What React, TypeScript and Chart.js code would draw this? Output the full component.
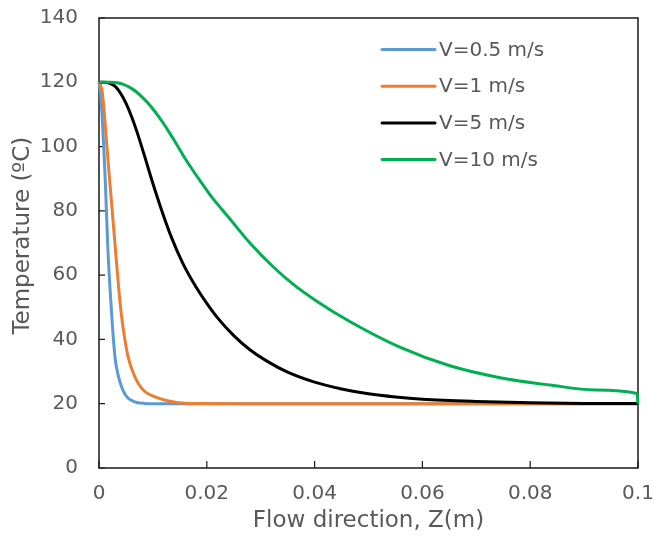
import React, { useEffect, useRef } from "react";
import { Chart, registerables } from "chart.js";

Chart.register(...registerables);

// ---- Data ----
const seriesLabels = ["V=0.5 m/s", "V=1 m/s", "V=5 m/s", "V=10 m/s"];
const seriesColors = ["#5B9BD5", "#ED7D31", "#000000", "#00B050"];

const blueZ = [0, 0.0003, 0.0006, 0.0009, 0.0012, 0.0016, 0.002, 0.0025, 0.003, 0.0036, 0.0042, 0.0048, 0.0054, 0.0062, 0.007, 0.0085, 0.011, 0.015, 0.02, 0.05, 0.1];
const blueT = [120, 116, 109, 99, 88, 70, 57, 44, 34, 28.5, 25.2, 23, 21.7, 20.9, 20.4, 20.1, 20, 20, 20, 20, 20];

const orangeZ = [0, 0.0003, 0.0006, 0.001, 0.0014, 0.0019, 0.0024, 0.003, 0.0036, 0.0042, 0.0048, 0.0054, 0.0063, 0.0073, 0.0085, 0.0104, 0.0125, 0.0147, 0.018, 0.025, 0.05, 0.1];
const orangeT = [120, 119, 117, 110, 101.5, 91, 81, 69, 57, 47, 40, 34.6, 29.8, 26.3, 23.8, 22.1, 21, 20.3, 20.05, 20, 20, 20];

const blackZ = [0, 0.001, 0.002, 0.003, 0.004, 0.005, 0.006, 0.007, 0.0085, 0.01, 0.0116, 0.0135, 0.0156, 0.018, 0.02, 0.022, 0.025, 0.028, 0.031, 0.035, 0.04, 0.045, 0.05, 0.055, 0.06, 0.07, 0.08, 0.09, 0.1];
const blackT = [120, 120, 119.7, 118.7, 116.6, 113.5, 109.5, 104.8, 96.8, 88.5, 80.3, 71.5, 63.5, 56.3, 51.2, 46.7, 41.2, 36.8, 33.4, 29.8, 26.7, 24.6, 23.1, 22.1, 21.4, 20.7, 20.3, 20.1, 20.05];

const greenZ = [0, 0.001, 0.002, 0.003, 0.004, 0.005, 0.006, 0.007, 0.008, 0.009, 0.01, 0.011, 0.012, 0.013, 0.014, 0.015, 0.016, 0.0175, 0.019, 0.021, 0.0238, 0.028, 0.0323, 0.036, 0.0404, 0.0466, 0.0558, 0.0651, 0.0744, 0.0837, 0.092, 0.0998, 0.1];
const greenT = [120, 120, 120, 119.9, 119.6, 119, 118.1, 116.9, 115.4, 113.7, 111.7, 109.5, 107.1, 104.5, 101.8, 99, 96.2, 92.4, 88.8, 84.1, 78.5, 70, 62.6, 57.2, 51.9, 45.5, 37.6, 31.8, 28.1, 25.8, 24.3, 23.2, 20];

const xTickValues = [0, 0.02, 0.04, 0.06, 0.08, 0.1];
const xTickLabels = ["0", "0.02", "0.04", "0.06", "0.08", "0.1"];
const yTickValues = [0, 20, 40, 60, 80, 100, 120, 140];

const xTitle = "Flow direction, Z(m)";
const yTitle = "  Temperature (ºC)";

const FONT = "'DejaVu Sans', sans-serif";
const TEXT_COLOR = "#595959";

const zs = [blueZ, orangeZ, blackZ, greenZ];
const ts = [blueT, orangeT, blackT, greenT];

const framePlugin = {
  id: "frameTicks",
  beforeDatasetsDraw(chart: any) {
    const { ctx, chartArea, scales } = chart;
    const { left, right, top, bottom } = chartArea;
    ctx.save();
    ctx.strokeStyle = "#1a1a1a";
    ctx.lineWidth = 1.5;
    ctx.strokeRect(left, top, right - left, bottom - top);
    ctx.lineWidth = 1.2;
    ctx.beginPath();
    for (const v of yTickValues) {
      const y = scales.y.getPixelForValue(v);
      ctx.moveTo(left, y);
      ctx.lineTo(left + 6, y);
    }
    for (const v of xTickValues) {
      const x = scales.x.getPixelForValue(v);
      ctx.moveTo(x, bottom);
      ctx.lineTo(x, bottom - 7);
    }
    ctx.stroke();
    ctx.restore();
  },
  afterDatasetsDraw(chart: any) {
    const { ctx, chartArea } = chart;
    ctx.save();
    ctx.font = `20px ${FONT}`;
    ctx.textBaseline = "middle";
    ctx.textAlign = "left";
    chart.data.datasets.forEach((ds: any, i: number) => {
      const y = chartArea.top + 31.5 + i * 36.7;
      const x0 = chartArea.left + 283;
      ctx.strokeStyle = ds.borderColor;
      ctx.lineWidth = 3;
      ctx.lineCap = "round";
      ctx.beginPath();
      ctx.moveTo(x0, y);
      ctx.lineTo(x0 + 53, y);
      ctx.stroke();
      ctx.fillStyle = TEXT_COLOR;
      ctx.fillText(ds.label, x0 + 57, y + 1);
    });
    ctx.restore();
  },
};

export default function App() {
  const canvasRef = useRef<HTMLCanvasElement | null>(null);

  useEffect(() => {
    if (!canvasRef.current) return;
    const datasets = seriesLabels.map((label, i) => ({
      label,
      data: zs[i].map((z, k) => ({ x: z, y: ts[i][k] })),
      borderColor: seriesColors[i],
      backgroundColor: seriesColors[i],
      borderWidth: 3,
      pointRadius: 0,
      cubicInterpolationMode: "monotone" as const,
      fill: false,
      clip: 4,
      order: 4 - i,
    }));

    const chart = new Chart(canvasRef.current, {
      type: "line",
      data: { datasets },
      plugins: [framePlugin],
      options: {
        animation: false,
        responsive: false,
        devicePixelRatio: 1,
        layout: { padding: { left: 0, right: 16, top: 18, bottom: 0 } },
        plugins: {
          legend: { display: false },
          tooltip: { enabled: false },
        },
        scales: {
          x: {
            type: "linear",
            min: 0,
            max: 0.1,
            grid: { display: false, drawTicks: false },
            border: { display: false },
            afterBuildTicks: (scale: any) => {
              scale.ticks = xTickValues.map((v) => ({ value: v }));
            },
            afterFit: (scale: any) => {
              scale.height = 81;
              scale.paddingLeft = 0;
              scale.paddingRight = 0;
            },
            ticks: {
              padding: 14,
              color: TEXT_COLOR,
              font: { family: FONT, size: 20 },
              callback: (v: any) => {
                const idx = xTickValues.findIndex((t) => Math.abs(t - Number(v)) < 1e-9);
                return idx >= 0 ? xTickLabels[idx] : "";
              },
            },
            title: {
              display: true,
              text: xTitle,
              color: TEXT_COLOR,
              font: { family: FONT, size: 23 },
              padding: { top: 0, bottom: 14 },
            },
          },
          y: {
            type: "linear",
            min: 0,
            max: 140,
            grid: { display: false, drawTicks: false },
            border: { display: false },
            afterBuildTicks: (scale: any) => {
              scale.ticks = yTickValues.map((v) => ({ value: v }));
            },
            afterFit: (scale: any) => {
              scale.width = 99;
              scale.paddingTop = 0;
              scale.paddingBottom = 0;
            },
            ticks: {
              padding: 21,
              color: TEXT_COLOR,
              font: { family: FONT, size: 20 },
            },
            title: {
              display: true,
              text: yTitle,
              color: TEXT_COLOR,
              font: { family: FONT, size: 23 },
              padding: { top: 9, bottom: 0 },
            },
          },
        },
      },
    });
    return () => chart.destroy();
  }, []);

  return (
    <div style={{ position: "fixed", left: 0, top: 0, width: 654, height: 549, background: "#fff" }}>
      <canvas ref={canvasRef} width={654} height={549} style={{ width: 654, height: 549 }} />
    </div>
  );
}
